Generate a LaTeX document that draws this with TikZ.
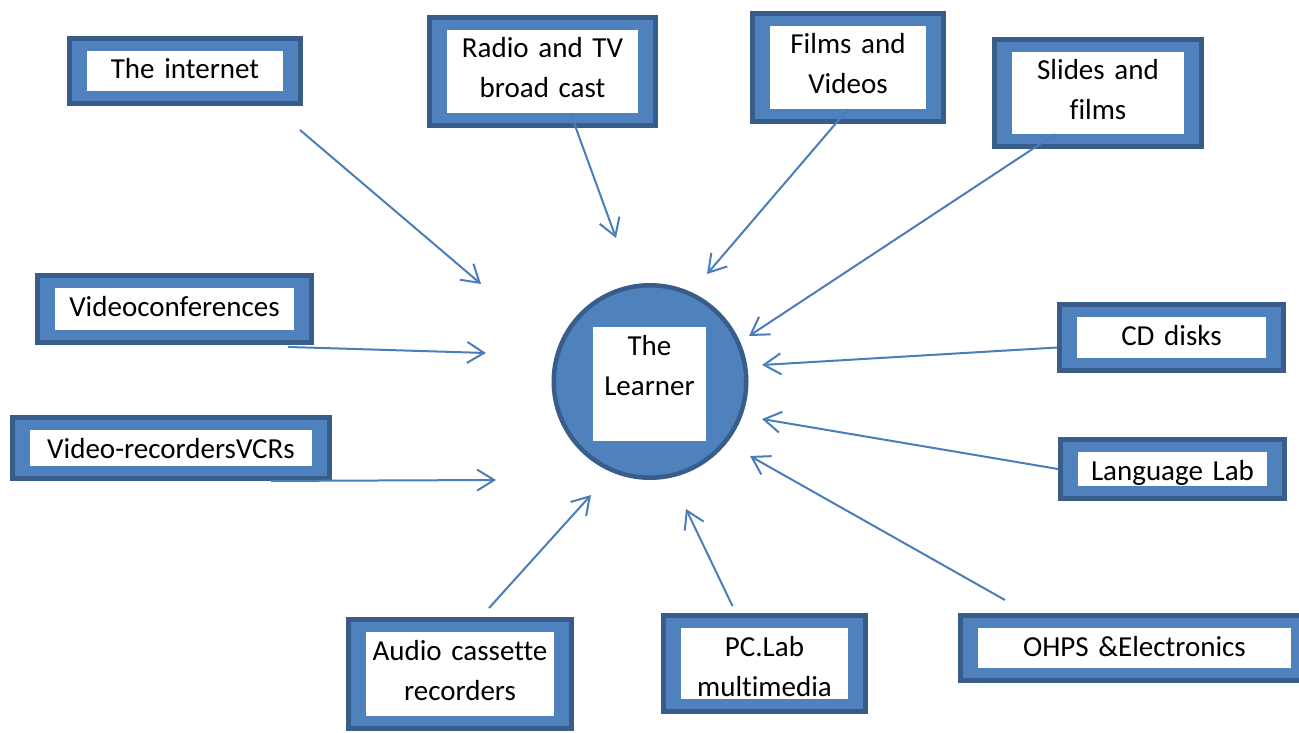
\documentclass[tikz,border=0pt]{standalone}
\usepackage{fontspec}
\setmainfont{Carlito}[Ligatures=NoCommon]
\usetikzlibrary{fit,backgrounds,arrows.meta}
\definecolor{boxblue}{HTML}{4F81BD}
\definecolor{boxedge}{HTML}{385D8A}
\definecolor{arrowblue}{HTML}{4A7EBB}

\begin{document}
\begin{tikzpicture}[x=1pt, y=-1pt,
    nodes = {align = center, font = \fontsize{29}{40}\selectfont},
    media/.style = {fill=white, inner sep=0pt, text height=28pt},
    mediaframe/.style = {draw=boxedge, fill=boxblue, line width=4.5pt,
      inner xsep=17.5pt, inner ysep=12.5pt},
    feed/.style = {->, color=arrowblue, line width=2pt,
      >={Straight Barb[length=17pt, width=21pt]}}]
    \useasboundingbox (0,0) rectangle (1299,733);

    \node (learner) [circle, draw=boxedge, fill=boxblue, line width=4.5pt,
    minimum size=192.5pt] at (650,381.5) {};

    \node (learnertext) [media, text width=113pt, text depth=86pt] at
    (649.5,384) {The\\Learner};

    \node (internet) [media, text width=196pt, text depth=12pt] at (185,71)
    {The internet};

    \node (radio) [media, text width=191pt, text depth=55pt] at (542.5,71.5)
    {Radio and TV\\broad cast};

    \node (films) [media, text width=156pt, text depth=55pt] at (848,67.5)
    {Films and\\Videos};

    \node (slides) [media, text width=172pt, text depth=54pt] at (1098,93)
    {Slides and\\films};

    \node (vconf) [media, text width=239pt, text depth=14pt] at (174.5,309)
    {Videoconferences};

    \node (cd) [media, text width=189pt, text depth=13pt] at (1171.5,337.5)
    {CD disks};

    \node (vcr) [media, text width=282pt, text depth=8pt] at (171,448)
    {Video-recordersVCRs};

    \node (lang) [media, text width=189pt, text depth=6pt] at (1172.5,469)
    {Language Lab};

    \node (audio) [media, text width=188pt, text depth=56pt] at (460,674)
    {Audio cassette\\recorders};

    \node (pclab) [media, text width=167pt, text depth=43pt] at (764.5,663.5)
    {PC.Lab\\multimedia};

    \node (ohps) [media, text width=313pt, text depth=12pt] at (1134.5,648)
    {OHPS \&Electronics};

    \begin{scope}[on background layer]
      \foreach \m in {internet, radio, films, slides, vconf, cd, vcr, lang,
        audio, pclab, ohps}
      \node (\m-box) [mediaframe, fit=(\m)] {};
    \end{scope}

    \coordinate (internet-tip) at (481,284);
    \coordinate (radio-tip) at (616,238);
    \coordinate (films-tip) at (707,274);
    \coordinate (slides-tip) at (749,336);
    \coordinate (vconf-tip) at (486,353);
    \coordinate (cd-tip) at (762,365);
    \coordinate (vcr-tip) at (496,480);
    \coordinate (lang-tip) at (762,419);
    \coordinate (audio-tip) at (591,495);
    \coordinate (pclab-tip) at (686,509);
    \coordinate (ohps-tip) at (750,456);

    \path[feed] ([xshift=-3pt, yshift=-24pt]internet-box.south east) edge
    (internet-tip);

    \path[feed] ([xshift=28pt]radio.south) edge (radio-tip);

    \path[feed] (films.south) edge (films-tip);

    \path[feed] ([xshift=-43pt]slides.south) edge (slides-tip);

    \path[feed] ([xshift=-26pt, yshift=-2pt]vconf-box.south east) edge
    (vconf-tip);

    \path[feed] ([yshift=-10pt]cd-box.west) edge (cd-tip);

    \path[feed] ([xshift=100pt]vcr-box.south) edge (vcr-tip);

    \path[feed] (lang-box.west) edge (lang-tip);

    \path[feed] ([xshift=29pt, yshift=9pt]audio-box.north) edge
    (audio-tip);

    \path[feed] ([xshift=-32pt, yshift=7pt]pclab-box.north) edge
    (pclab-tip);

    \path[feed] ([xshift=47pt, yshift=13pt]ohps-box.north west) edge
    (ohps-tip);
  \end{tikzpicture}
\end{document}
